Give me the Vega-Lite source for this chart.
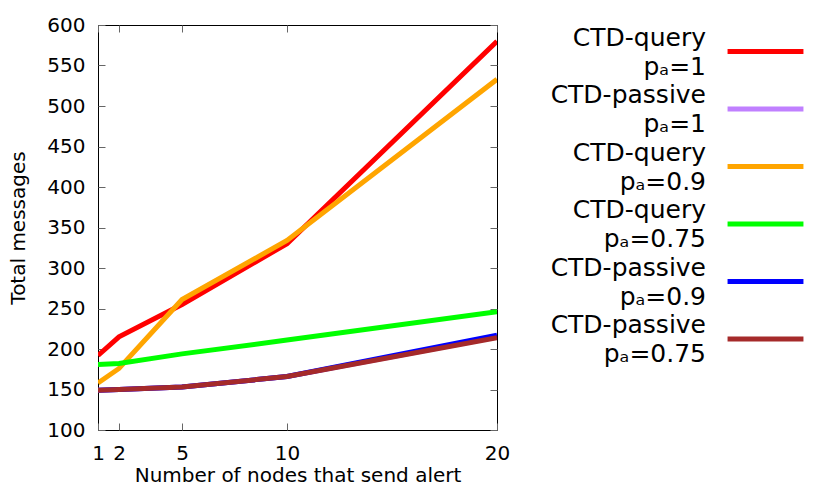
{
  "$schema": "https://vega.github.io/schema/vega-lite/v6.json",
  "width": 399,
  "height": 405,
  "autosize": "none",
  "padding": {"left": 98, "top": 25, "right": 333, "bottom": 68},
  "config": {
    "font": "DejaVu Sans",
    "view": {"stroke": "#000000", "strokeWidth": 1},
    "axis": {
      "domain": false,
      "grid": false,
      "tickSize": -7,
      "tickColor": "#666666",
      "labelFlush": false,
      "labelFont": "DejaVu Sans",
      "labelFontSize": 20,
      "labelColor": "#000000",
      "titleFont": "DejaVu Sans",
      "titleFontSize": 20,
      "titleFontWeight": "normal",
      "titleColor": "#000000"
    }
  },
  "data": {
    "values": [
      {"series": "CTD-query|pₐ=1", "n": 1, "msgs": 192},
      {"series": "CTD-query|pₐ=1", "n": 2, "msgs": 215},
      {"series": "CTD-query|pₐ=1", "n": 5, "msgs": 255},
      {"series": "CTD-query|pₐ=1", "n": 10, "msgs": 330},
      {"series": "CTD-query|pₐ=1", "n": 20, "msgs": 580},
      {"series": "CTD-passive|pₐ=1", "n": 1, "msgs": 149},
      {"series": "CTD-passive|pₐ=1", "n": 2, "msgs": 150},
      {"series": "CTD-passive|pₐ=1", "n": 5, "msgs": 153},
      {"series": "CTD-passive|pₐ=1", "n": 10, "msgs": 166},
      {"series": "CTD-passive|pₐ=1", "n": 20, "msgs": 215},
      {"series": "CTD-query|pₐ=0.9", "n": 1, "msgs": 158},
      {"series": "CTD-query|pₐ=0.9", "n": 2, "msgs": 176},
      {"series": "CTD-query|pₐ=0.9", "n": 5, "msgs": 261},
      {"series": "CTD-query|pₐ=0.9", "n": 10, "msgs": 334},
      {"series": "CTD-query|pₐ=0.9", "n": 20, "msgs": 533},
      {"series": "CTD-query|pₐ=0.75", "n": 1, "msgs": 181},
      {"series": "CTD-query|pₐ=0.75", "n": 2, "msgs": 182},
      {"series": "CTD-query|pₐ=0.75", "n": 5, "msgs": 194},
      {"series": "CTD-query|pₐ=0.75", "n": 10, "msgs": 211},
      {"series": "CTD-query|pₐ=0.75", "n": 20, "msgs": 246},
      {"series": "CTD-passive|pₐ=0.9", "n": 1, "msgs": 149},
      {"series": "CTD-passive|pₐ=0.9", "n": 2, "msgs": 150},
      {"series": "CTD-passive|pₐ=0.9", "n": 5, "msgs": 153},
      {"series": "CTD-passive|pₐ=0.9", "n": 10, "msgs": 166},
      {"series": "CTD-passive|pₐ=0.9", "n": 20, "msgs": 217},
      {"series": "CTD-passive|pₐ=0.75", "n": 1, "msgs": 149},
      {"series": "CTD-passive|pₐ=0.75", "n": 2, "msgs": 150},
      {"series": "CTD-passive|pₐ=0.75", "n": 5, "msgs": 153},
      {"series": "CTD-passive|pₐ=0.75", "n": 10, "msgs": 166},
      {"series": "CTD-passive|pₐ=0.75", "n": 20, "msgs": 214}
    ]
  },
  "layer": [
    {
      "mark": {"type": "line", "strokeWidth": 5, "clip": true},
      "encoding": {
        "x": {
          "field": "n", "type": "quantitative",
          "scale": {"domain": [1, 20], "nice": false, "zero": false},
          "axis": {"values": [1, 2, 5, 10, 20], "title": "Number of nodes that send alert", "labelPadding": 20, "titlePadding": 2}
        },
        "y": {
          "field": "msgs", "type": "quantitative",
          "scale": {"domain": [100, 600], "nice": false, "zero": false},
          "axis": {"values": [100, 150, 200, 250, 300, 350, 400, 450, 500, 550, 600], "title": "Total messages", "labelPadding": 20, "titlePadding": 18}
        },
        "color": {
          "field": "series", "type": "nominal",
          "scale": {
            "domain": ["CTD-query|pₐ=1", "CTD-passive|pₐ=1", "CTD-query|pₐ=0.9", "CTD-query|pₐ=0.75", "CTD-passive|pₐ=0.9", "CTD-passive|pₐ=0.75"],
            "range": ["#ff0000", "#c080ff", "#ffa500", "#00ff00", "#0000ff", "#a52a2a"]
          },
          "legend": {
            "orient": "none",
            "legendX": 655,
            "legendY": 14,
            "title": null,
            "padding": 0,
            "symbolType": "M-4,0H4",
            "symbolSize": 360,
            "symbolStrokeWidth": 5,
            "labelFont": "DejaVu Sans",
            "labelFontSize": 25,
            "labelLimit": 0,
            "labelAlign": "right",
            "labelOffset": -72,
            "labelBaseline": "middle",
            "rowPadding": 2.5,
            "labelExpr": "split(datum.label, '|')",
            "encode": {
              "labels": {"update": {"lineHeight": {"value": 29}, "dy": {"value": -14}}}
            }
          }
        },
        "order": {"field": "n", "type": "quantitative"}
      }
    },
    {
      "mark": {"type": "line", "opacity": 0},
      "encoding": {
        "x": {"field": "n", "type": "quantitative", "axis": {"orient": "top", "values": [1, 2, 5, 10, 20], "labels": false, "title": null}},
        "y": {"field": "msgs", "type": "quantitative", "axis": {"orient": "right", "values": [100, 150, 200, 250, 300, 350, 400, 450, 500, 550, 600], "labels": false, "title": null}},
        "detail": {"field": "series"}
      }
    }
  ],
  "resolve": {"axis": {"x": "independent", "y": "independent"}}
}
